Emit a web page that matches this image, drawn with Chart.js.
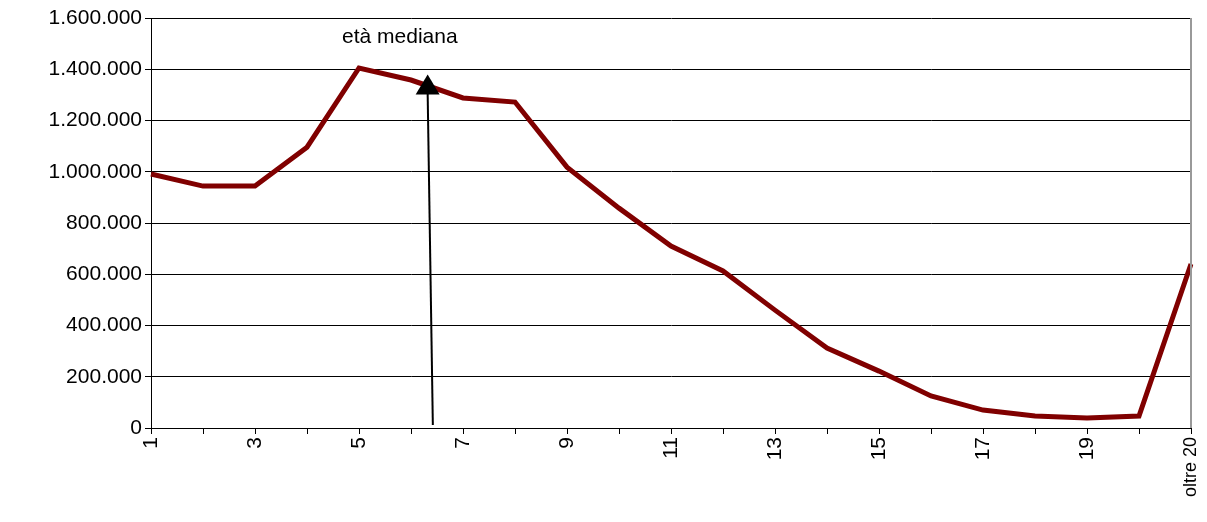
<!DOCTYPE html>
<html><head><meta charset="utf-8">
<script src="https://cdn.jsdelivr.net/npm/chart.js@4/dist/chart.umd.min.js"></script>
<style>body{margin:0;background:#fff}</style>
</head><body><canvas id="c" width="1207" height="522"></canvas>
<script>
const categories = ['1','2','3','4','5','6','7','8','9','10','11','12','13','14','15','16','17','18','19','20','oltre 20'];
const values = [991000,944000,944000,1096000,1405000,1358000,1288000,1272000,1018000,858000,710000,613000,460000,312000,222000,125000,70000,47000,39000,47000,640000];
const shownTicks = ['1','3','5','7','9','11','13','15','17','19','oltre 20'];
const annotation = {text:'età mediana', xIndex:5.42, yTop:1380000};
const fmt = v => v.toLocaleString('it-IT').replace(/\s/g,'.') ;
const arrowPlugin = {id:'arrow', afterDatasetsDraw(ch){
  const {ctx, scales:{x,y}} = ch;
  const px0 = x.getPixelForValue(annotation.xIndex), py0 = y.getPixelForValue(0)-3;
  const px1 = x.getPixelForValue(annotation.xIndex-0.1), py1 = y.getPixelForValue(annotation.yTop);
  ctx.save(); ctx.strokeStyle='#000'; ctx.lineWidth=2;
  ctx.beginPath(); ctx.moveTo(px0,py0); ctx.lineTo(px1,py1+18); ctx.stroke();
  ctx.fillStyle='#000'; ctx.beginPath(); ctx.moveTo(px1,py1); ctx.lineTo(px1-12,py1+20); ctx.lineTo(px1+12,py1+20); ctx.closePath(); ctx.fill();
  ctx.font='21px Arial, "Liberation Sans"'; ctx.textAlign='left'; ctx.textBaseline='middle';
  ctx.fillText(annotation.text, 342, 37);
  ctx.strokeStyle='#999'; ctx.lineWidth=2; ctx.beginPath(); ctx.moveTo(x.right,y.top); ctx.lineTo(x.right,y.bottom); ctx.stroke();
  ctx.restore();
}};
new Chart(document.getElementById('c'), {
  type:'line',
  data:{labels:categories, datasets:[{data:values, borderColor:'#800000', borderWidth:5, pointRadius:0, tension:0, fill:false}]},
  options:{responsive:false, animation:false, devicePixelRatio:1,
    layout:{padding:{top:18,right:16,left:0,bottom:0}},
    plugins:{legend:{display:false}, tooltip:{enabled:false}},
    scales:{
      x:{offset:false, afterFit:s=>{s.height=94; s.paddingRight=0;}, grid:{display:true, drawOnChartArea:false, color:'#000', tickLength:6}, border:{color:'#000',width:1},
        ticks:{autoSkip:false, maxRotation:90, minRotation:90, color:'#000',
          font:c=>({size: c.index===categories.length-1 ? 18 : 21, family:'Arial, "Liberation Sans"'}),
          callback:(v,i)=> shownTicks.includes(categories[i]) ? categories[i] : ''}},
      y:{min:0,max:1600000, afterFit:s=>{s.width=151;}, grid:{color:'#000',lineWidth:1, tickLength:6}, border:{color:'#000'},
        ticks:{stepSize:200000, color:'#000', font:{size:21,family:'Arial, "Liberation Sans"'}, callback:v=>fmt(v)}}
    }},
  plugins:[arrowPlugin]
});
</script></body></html>
